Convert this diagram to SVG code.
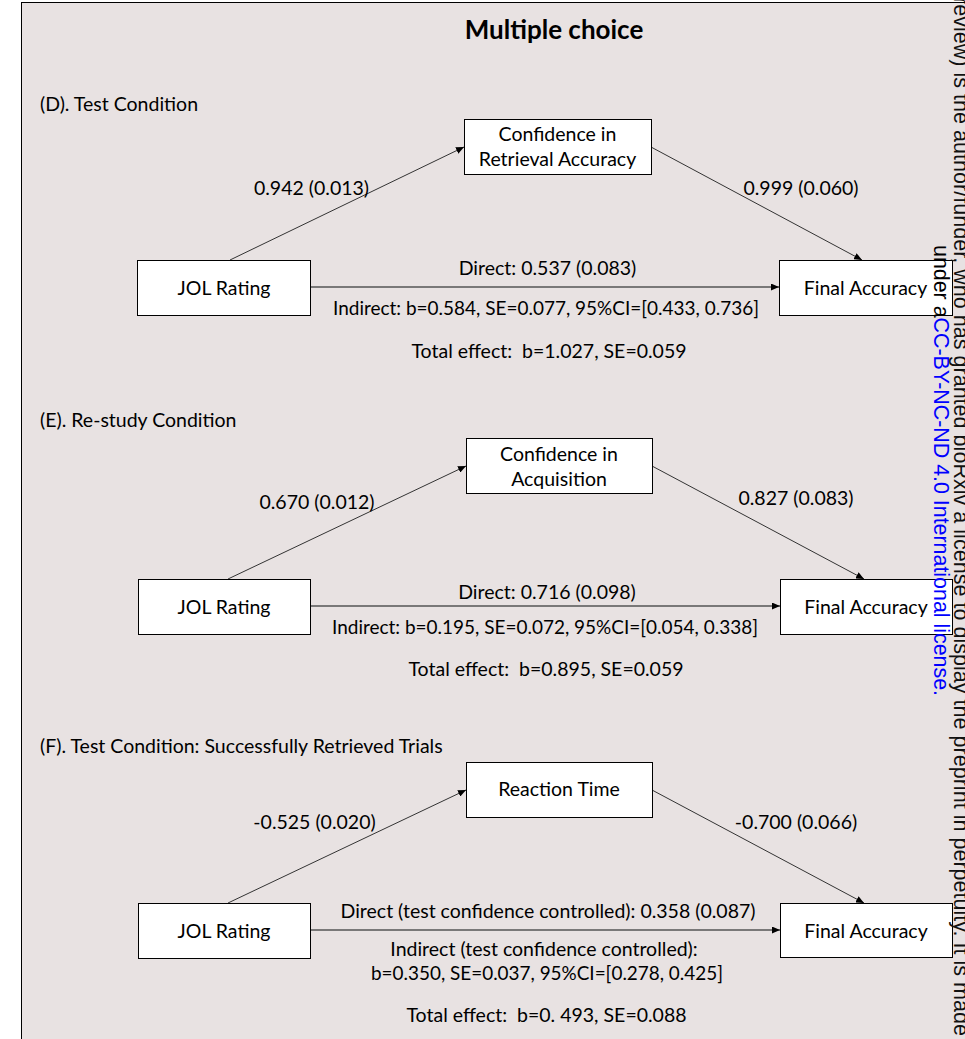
<svg xmlns="http://www.w3.org/2000/svg" width="965" height="1039" viewBox="0 0 965 1039">
<style>
.t{font-family:Lato,"Open Sans","Liberation Sans",sans-serif;font-size:19.5px;fill:#000;}
.c{text-anchor:middle;}
.title{font-family:Lato,"Open Sans","Liberation Sans",sans-serif;font-size:26px;font-weight:bold;fill:#000;text-anchor:middle;}
.box{fill:#fff;stroke:#000;stroke-width:1;}
.edge{stroke:#333;stroke-width:1;fill:none;}
.direct{stroke:#555;stroke-width:1.4;fill:none;}
.wm{font-family:"Liberation Sans",Arial,sans-serif;font-size:21.4px;}
</style>
<defs>
<marker id="ah" markerUnits="userSpaceOnUse" markerWidth="9" markerHeight="7" refX="8" refY="3.5" orient="auto">
<path d="M0,0 L8,3.5 L0,7 z" fill="#000"/>
</marker>
</defs>
<rect x="0" y="0" width="965" height="1039" fill="#fff"/>
<rect x="21.5" y="2.5" width="960" height="1050" fill="#e8e2e2" stroke="#000" stroke-width="1"/>
<text class="title" x="554" y="39">Multiple choice</text>

<g id="connectors">
<line class="edge" x1="230" y1="260" x2="464" y2="147" marker-end="url(#ah)"/>
<line class="edge" x1="651" y1="147" x2="862" y2="260" marker-end="url(#ah)"/>
<line class="direct" x1="311" y1="287" x2="779" y2="287" marker-end="url(#ah)"/>
<line class="edge" x1="228" y1="579" x2="466" y2="466" marker-end="url(#ah)"/>
<line class="edge" x1="652" y1="466" x2="864" y2="579" marker-end="url(#ah)"/>
<line class="direct" x1="311" y1="606" x2="780" y2="606" marker-end="url(#ah)"/>
<line class="edge" x1="228" y1="903" x2="466" y2="790" marker-end="url(#ah)"/>
<line class="edge" x1="652" y1="790" x2="864" y2="903" marker-end="url(#ah)"/>
<line class="direct" x1="311" y1="930" x2="780" y2="930" marker-end="url(#ah)"/>
</g>

<g id="labels">
<text class="t" x="40" y="111">(D). Test Condition</text>
<text class="t c" x="311.5" y="195">0.942 (0.013)</text>
<text class="t c" x="801" y="195">0.999 (0.060)</text>
<text class="t c" x="547.5" y="275">Direct: 0.537 (0.083)</text>
<text class="t c" x="546" y="315" textLength="426" lengthAdjust="spacingAndGlyphs">Indirect: b=0.584, SE=0.077, 95%CI=[0.433, 0.736]</text>
<text class="t c" x="549" y="358" xml:space="preserve">Total effect:  b=1.027, SE=0.059</text>

<text class="t" x="40" y="427">(E). Re-study Condition</text>
<text class="t c" x="317" y="509">0.670 (0.012)</text>
<text class="t c" x="796" y="505">0.827 (0.083)</text>
<text class="t c" x="547" y="599">Direct: 0.716 (0.098)</text>
<text class="t c" x="545" y="634" textLength="426" lengthAdjust="spacingAndGlyphs">Indirect: b=0.195, SE=0.072, 95%CI=[0.054, 0.338]</text>
<text class="t c" x="546" y="676" xml:space="preserve">Total effect:  b=0.895, SE=0.059</text>

<text class="t" x="40" y="753">(F). Test Condition: Successfully Retrieved Trials</text>
<text class="t c" x="314.5" y="829">-0.525 (0.020)</text>
<text class="t c" x="796" y="829">-0.700 (0.066)</text>
<text class="t c" x="548" y="918">Direct (test confidence controlled): 0.358 (0.087)</text>
<text class="t c" x="544" y="956">Indirect (test confidence controlled):</text>
<text class="t c" x="547" y="980" textLength="352" lengthAdjust="spacingAndGlyphs">b=0.350, SE=0.037, 95%CI=[0.278, 0.425]</text>
<text class="t c" x="546.5" y="1022" xml:space="preserve">Total effect:  b=0. 493, SE=0.088</text>
</g>

<g id="node-d-mediator">
<rect class="box" x="464.5" y="119.5" width="187" height="55"/>
<text class="t c" x="557.5" y="141">Confidence in</text>
<text class="t c" x="557.5" y="166">Retrieval Accuracy</text>
</g>
<g id="node-d-jol">
<rect class="box" x="137.5" y="260.5" width="173" height="55"/>
<text class="t c" x="224" y="295">JOL Rating</text>
</g>
<g id="node-d-final">
<rect class="box" x="779.5" y="260.5" width="173" height="55"/>
<text class="t c" x="865.5" y="295">Final Accuracy</text>
</g>

<g id="node-e-mediator">
<rect class="box" x="466.5" y="438.5" width="186" height="55"/>
<text class="t c" x="559" y="461">Confidence in</text>
<text class="t c" x="559" y="486">Acquisition</text>
</g>
<g id="node-e-jol">
<rect class="box" x="138.5" y="579.5" width="172" height="55"/>
<text class="t c" x="224" y="614">JOL Rating</text>
</g>
<g id="node-e-final">
<rect class="box" x="780.5" y="579.5" width="172" height="55"/>
<text class="t c" x="866" y="614">Final Accuracy</text>
</g>

<g id="node-f-mediator">
<rect class="box" x="466.5" y="762.5" width="186" height="55"/>
<text class="t c" x="559" y="796">Reaction Time</text>
</g>
<g id="node-f-jol">
<rect class="box" x="138.5" y="903.5" width="172" height="55"/>
<text class="t c" x="224" y="938">JOL Rating</text>
</g>
<g id="node-f-final">
<rect class="box" x="780.5" y="903.5" width="172" height="54"/>
<text class="t c" x="866" y="938">Final Accuracy</text>
</g>

<g id="watermark">
<text class="wm" transform="translate(953.5,1036) rotate(90)" text-anchor="end" fill="#111" textLength="1039" lengthAdjust="spacingAndGlyphs">review) is the author/funder, who has granted bioRxiv a license to display the preprint in perpetuity. It is made</text>
<text class="wm" transform="translate(933.5,245) rotate(90)" fill="#000">under a<tspan fill="#0000ff">CC-BY-NC-ND 4.0 International license.</tspan></text>
</g>
</svg>
